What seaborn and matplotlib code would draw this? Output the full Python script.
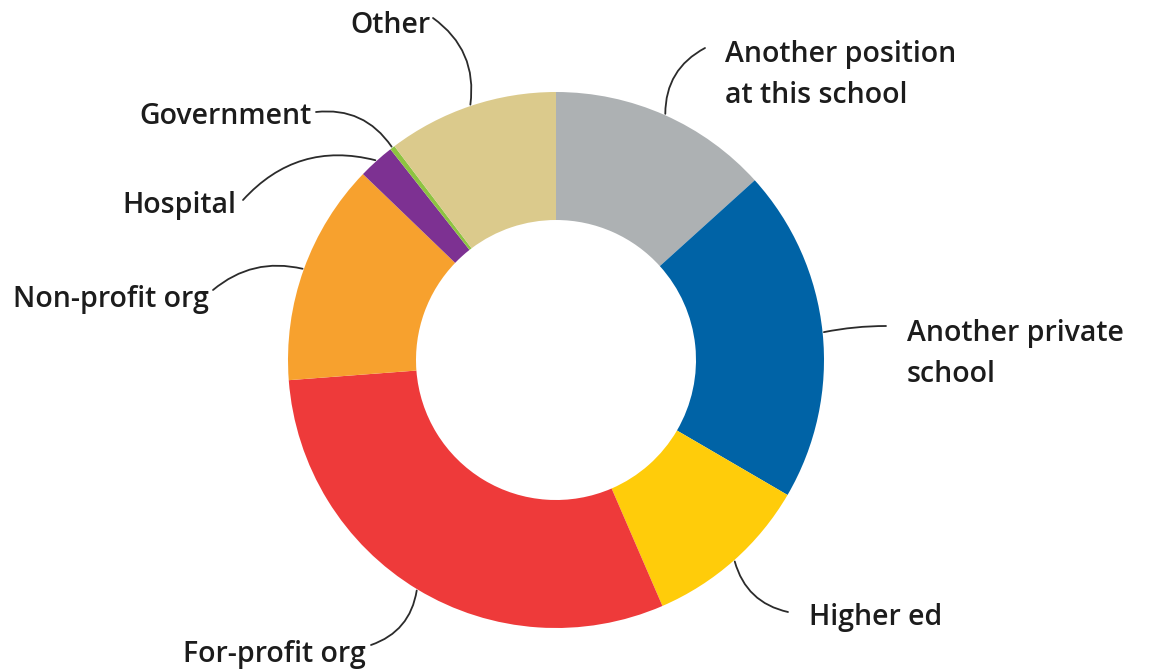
import numpy as np
import matplotlib
matplotlib.use("Agg")
import matplotlib.pyplot as plt
import seaborn as sns

# Share of departures by destination
categories = [
    "Another position\nat this school",
    "Another private\nschool",
    "Higher ed",
    "For-profit org",
    "Non-profit org",
    "Hospital",
    "Government",
    "Other",
]
shares = [13.3, 20.1, 10.1, 30.3, 13.4, 2.2, 0.3, 10.3]
colors = ["#ADB1B3", "#0063A6", "#FFCC0A", "#EE3A3A", "#F7A12E",
          "#7D3192", "#8DC341", "#DBCA8C"]

# Label layout in pixels: text left edge / last-line baseline, leader start, arc bend
label_xy = [(725, 103), (907, 382), (809, 625), (183, 662),
            (13, 307), (122, 213), (139, 124), (350, 33)]
leader_start = [(705, 48), (886, 326), (788, 612), (371, 645),
                (213, 290), (243, 200), (316, 112), (433, 18)]
leader_rad = [0.3, 0.05, -0.3, 0.3, -0.25, -0.3, -0.3, -0.3]

sns.set_theme(style="white")
plt.rcParams["font.family"] = ["Open Sans", "DejaVu Sans"]

W, H, DPI = 1152, 670, 100
CX, CY, R = 556, 360, 268  # pie centre and outer radius in pixels

fig = plt.figure(figsize=(W / DPI, H / DPI), dpi=DPI)
ax = fig.add_axes([0, 0, 1, 1])


def px(x, y):
    return ((x - CX) / R, (CY - y) / R)


wedges, _ = ax.pie(
    shares,
    colors=colors,
    startangle=90,
    counterclock=False,
    radius=1.0,
    wedgeprops=dict(width=128 / R, linewidth=0),
)
ax.set_xlim(-CX / R, (W - CX) / R)
ax.set_ylim(-(H - CY) / R, CY / R)
ax.set_aspect("equal")
ax.axis("off")

for w, name, (tx, ty), (sx, sy), rad in zip(
        wedges, categories, label_xy, leader_start, leader_rad):
    mid = np.deg2rad((w.theta1 + w.theta2) / 2)
    tip = (np.cos(mid) * 1.005, np.sin(mid) * 1.005)
    ax.annotate(
        "", xy=tip, xytext=px(sx, sy),
        arrowprops=dict(arrowstyle="-", color="#2b2b2b", lw=1.3,
                        shrinkA=0, shrinkB=0,
                        connectionstyle=f"arc3,rad={rad}"),
    )
    ax.text(*px(tx, ty), name, ha="left", va="baseline",
            fontsize=20.5, fontweight="semibold", color="#1c1c1c",
            linespacing=1.54)

fig.savefig("out.png", dpi=DPI, facecolor="white")
